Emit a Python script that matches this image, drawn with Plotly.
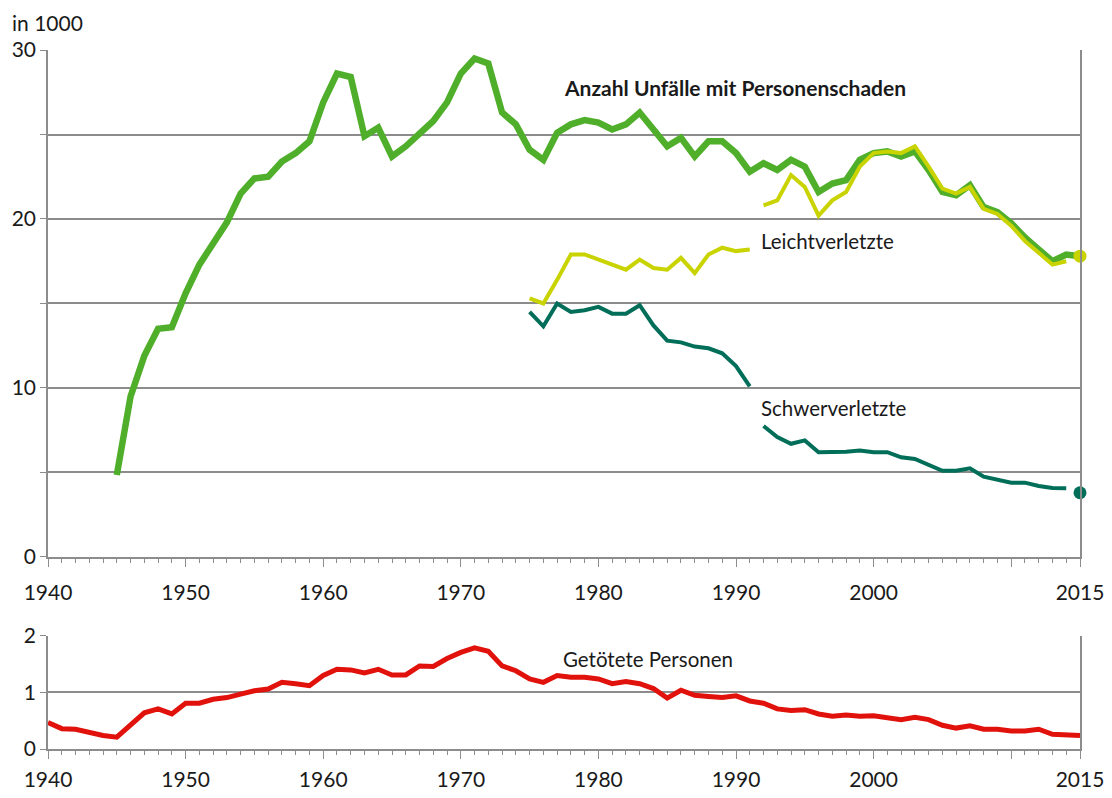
import plotly.graph_objects as go

# ---------------- data (in 1000) ----------------
years_unfaelle = list(range(1945, 2016))
unfaelle = [4.85, 9.5, 11.9, 13.5, 13.6, 15.6, 17.3, 18.5, 19.8, 21.5,
            22.4, 22.5, 23.4, 23.9, 24.6, 26.9, 28.6, 28.4, 24.9, 25.4,
            23.7, 24.3, 25.1, 25.8, 26.9, 28.6, 29.5, 29.2, 26.3, 25.6,
            24.1, 23.5, 25.1, 25.6, 25.85, 25.7, 25.3, 25.6, 26.3, 25.3,
            24.3, 24.8, 23.7, 24.6, 24.6, 23.9, 22.8, 23.3, 22.9, 23.5,
            23.1, 21.6, 22.1, 22.3, 23.5, 23.9, 24.0, 23.7, 24.0, 22.9,
            21.6, 21.4, 22.0, 20.7, 20.4, 19.75, 18.9, 18.2, 17.5, 17.9, 17.8]

years_a = list(range(1975, 1992))
years_b = list(range(1992, 2015))
year_last = [2015]

leicht_a = [15.3, 15.0, 16.4, 17.9, 17.9, 17.6, 17.3, 17.0, 17.6, 17.1,
            17.0, 17.7, 16.8, 17.9, 18.3, 18.1, 18.2]
leicht_b = [20.8, 21.1, 22.6, 21.9, 20.2, 21.1, 21.6, 23.1, 23.9, 24.0,
            23.9, 24.3, 23.1, 21.8, 21.5, 21.9, 20.6, 20.3, 19.6, 18.7,
            18.0, 17.3, 17.5]
leicht_last = [17.8]

schwer_a = [14.5, 13.65, 15.0, 14.5, 14.6, 14.8, 14.4, 14.4, 14.9, 13.7,
            12.8, 12.7, 12.45, 12.35, 12.05, 11.3, 10.1]
schwer_b = [7.75, 7.1, 6.7, 6.9, 6.2, 6.2, 6.23, 6.3, 6.2, 6.2,
            5.9, 5.8, 5.45, 5.1, 5.1, 5.25, 4.75, 4.6, 4.4, 4.4,
            4.2, 4.08, 4.06]
schwer_last = [3.8]

years_tote = list(range(1940, 2016))
getoetete = [0.47, 0.36, 0.35, 0.29, 0.24, 0.21, 0.44, 0.64, 0.71, 0.62,
             0.81, 0.81, 0.88, 0.91, 0.97, 1.03, 1.06, 1.18, 1.155, 1.12,
             1.30, 1.41, 1.40, 1.345, 1.41, 1.31, 1.31, 1.47, 1.46, 1.60,
             1.71, 1.79, 1.73, 1.47, 1.385, 1.24, 1.18, 1.30, 1.27, 1.27,
             1.24, 1.155, 1.195, 1.155, 1.07, 0.90, 1.04, 0.95, 0.93, 0.91,
             0.94, 0.85, 0.81, 0.71, 0.68, 0.695, 0.62, 0.58, 0.60, 0.58,
             0.59, 0.55, 0.52, 0.56, 0.52, 0.42, 0.37, 0.41, 0.35, 0.35,
             0.32, 0.32, 0.35, 0.26, 0.24, 0.24]

x_tickvals = [1940, 1950, 1960, 1970, 1980, 1990, 2000, 2010, 2015]
x_ticktext = ["1940", "1950", "1960", "1970", "1980", "1990", "2000", "", "2015"]
y1_tickvals = [0, 5, 10, 15, 20, 25, 30]
y1_ticktext = ["0", "", "10", "", "20", "", "30"]
y2_tickvals = [0, 1, 2]
y2_ticktext = ["0", "1", "2"]

# ---------------- styles ----------------
GREEN = "#4fae2a"
YELLOW = "#c9d300"
TEAL = "#006e58"
RED = "#e1120c"
GRID = "#8c8c8c"
TXT = "#1a1a1a"
FONT = "Lato"
TICK_SIZE = 21
LABEL_SIZE = 20.5

fig = go.Figure()

fig.add_trace(go.Scatter(x=years_unfaelle, y=unfaelle, mode="lines",
                         line=dict(color=GREEN, width=6.5), xaxis="x", yaxis="y"))
fig.add_trace(go.Scatter(x=years_a, y=leicht_a, mode="lines",
                         line=dict(color=YELLOW, width=4), xaxis="x", yaxis="y"))
fig.add_trace(go.Scatter(x=years_b, y=leicht_b, mode="lines",
                         line=dict(color=YELLOW, width=4), xaxis="x", yaxis="y"))
fig.add_trace(go.Scatter(x=year_last, y=leicht_last, mode="markers", cliponaxis=False,
                         marker=dict(color=YELLOW, size=13), xaxis="x", yaxis="y"))
fig.add_trace(go.Scatter(x=years_a, y=schwer_a, mode="lines",
                         line=dict(color=TEAL, width=4), xaxis="x", yaxis="y"))
fig.add_trace(go.Scatter(x=years_b, y=schwer_b, mode="lines",
                         line=dict(color=TEAL, width=4), xaxis="x", yaxis="y"))
fig.add_trace(go.Scatter(x=year_last, y=schwer_last, mode="markers", cliponaxis=False,
                         marker=dict(color=TEAL, size=13), xaxis="x", yaxis="y"))
fig.add_trace(go.Scatter(x=years_tote, y=getoetete, mode="lines",
                         line=dict(color=RED, width=5), xaxis="x2", yaxis="y2"))

xcommon = dict(range=[1940, 2015], tickmode="array", tickvals=x_tickvals,
               ticktext=x_ticktext, ticks="outside", ticklen=8, tickwidth=1.3,
               tickcolor=GRID, showline=True, linecolor=GRID, linewidth=1.5,
               showgrid=False, zeroline=False, automargin=False,
               ticklabeloverflow="allow",
               tickfont=dict(family=FONT, size=TICK_SIZE, color=TXT),
               minor=dict(ticks="outside", tickmode="linear", tick0=1940, dtick=1,
                          ticklen=4, tickwidth=1, tickcolor=GRID))
ycommon = dict(tickmode="array", ticks="outside", ticklen=6, tickwidth=1.3,
               tickcolor=GRID, showline=True, mirror=True, linecolor=GRID,
               linewidth=1.5, showgrid=True, gridcolor=GRID, gridwidth=1.5,
               zeroline=False, automargin=False,
               tickfont=dict(family=FONT, size=TICK_SIZE, color=TXT))

H_TOP = 0.2747
H_BOT = 0.1617

fig.update_layout(
    width=1096, height=782,
    margin=dict(l=40, r=24, t=42, b=41),
    paper_bgcolor="white", plot_bgcolor="white",
    showlegend=False,
    font=dict(family=FONT, color=TXT),
    xaxis=dict(anchor="y", ticklabelstandoff=8, **xcommon),
    yaxis=dict(domain=[H_TOP, 1], range=[0, 30], tickvals=y1_tickvals,
               ticktext=y1_ticktext, anchor="x", **ycommon),
    xaxis2=dict(anchor="y2", ticklabelstandoff=3, **xcommon),
    yaxis2=dict(domain=[0, H_BOT], range=[0, 2], tickvals=y2_tickvals,
                ticktext=y2_ticktext, anchor="x2", **ycommon),
    annotations=[
        dict(text="in 1000", xref="paper", yref="paper", x=-0.0368, y=1.04,
             xanchor="left", yanchor="middle", showarrow=False,
             font=dict(family=FONT, size=TICK_SIZE, color=TXT)),
        dict(text="<b>Anzahl Unfälle mit Personenschaden</b>", xref="x", yref="y",
             x=1989.9, y=27.8, xanchor="center", yanchor="middle", showarrow=False,
             font=dict(family=FONT, size=21, color=TXT)),
        dict(text="Leichtverletzte", xref="x", yref="y", x=1991.7, y=18.7,
             xanchor="left", yanchor="middle", showarrow=False,
             font=dict(family=FONT, size=LABEL_SIZE, color=TXT)),
        dict(text="Schwerverletzte", xref="x", yref="y", x=1991.7, y=8.8,
             xanchor="left", yanchor="middle", showarrow=False,
             font=dict(family=FONT, size=LABEL_SIZE, color=TXT)),
        dict(text="Getötete Personen", xref="x2", yref="y2", x=1977.3, y=1.59,
             xanchor="left", yanchor="middle", showarrow=False,
             font=dict(family=FONT, size=LABEL_SIZE, color=TXT)),
    ],
)

fig.write_html("out.html")
